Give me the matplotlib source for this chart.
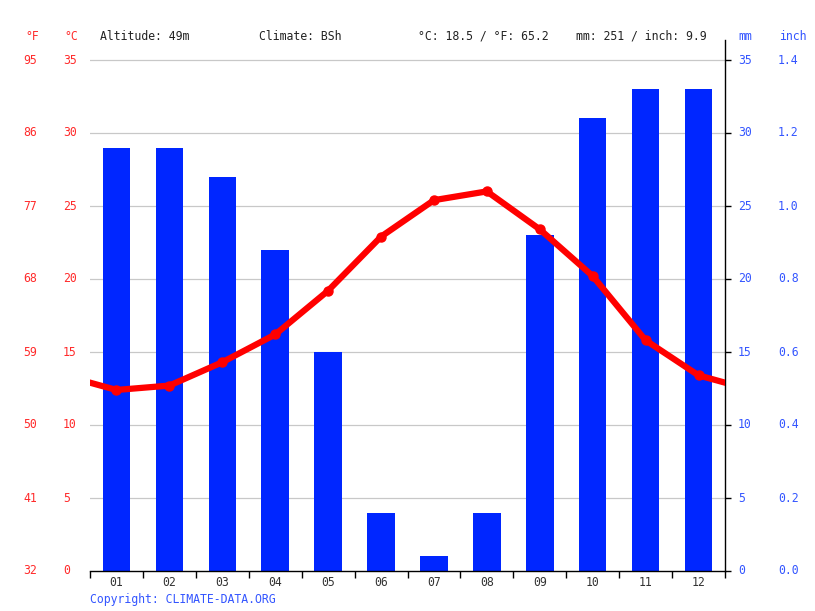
import matplotlib
matplotlib.use("Agg")
import matplotlib.pyplot as plt
import matplotlib.transforms as mtransforms

# data
months = ["01", "02", "03", "04", "05", "06", "07", "08", "09", "10", "11", "12"]
precip_mm = [29, 29, 27, 22, 15, 4, 1, 4, 23, 31, 33, 33]
temp_c = [12.4, 12.7, 14.3, 16.2, 19.2, 22.9, 25.4, 26.0, 23.4, 20.2, 15.8, 13.4]
c_ticks = [0, 5, 10, 15, 20, 25, 30, 35]
f_labels = ["32", "41", "50", "59", "68", "77", "86", "95"]
mm_labels = ["0", "5", "10", "15", "20", "25", "30", "35"]
inch_labels = ["0.0", "0.2", "0.4", "0.6", "0.8", "1.0", "1.2", "1.4"]

red = "#ff0000"
red_txt = "#ff2a2a"
blue = "#0026ff"
blue_txt = "#3355ff"
fnt = "DejaVu Sans Mono"
fs = 8.3

plt.rcParams["font.family"] = fnt

W, H = 815, 611
fig = plt.figure(figsize=(W / 100, H / 100), dpi=100)
ax = fig.add_axes([90 / W, (H - 571) / H, (725 - 90) / W, (571 - 40) / H])

px_per_c = (571 - 60) / 35.0
ax.set_ylim(0, (571 - 40) / px_per_c)
ax.set_xlim(-0.5, 11.5)

# gridlines
for v in c_ticks[1:]:
    ax.axhline(v, color="#c8c8c8", lw=0.9, zorder=0)

x = list(range(12))
ax.bar(x, precip_mm, width=0.52, color=blue, zorder=2)

# temperature line, wrapped around the year at the edges
xl = [-1] + x + [12]
tl = [temp_c[-1]] + temp_c + [temp_c[0]]
ax.plot(xl, tl, color=red, lw=4.5, zorder=3, solid_capstyle="butt")
ax.plot(x, temp_c, "o", color=red, ms=6.5, zorder=4)

for s in ["left", "top"]:
    ax.spines[s].set_visible(False)
ax.spines["right"].set_color("black")
ax.spines["bottom"].set_color("black")
ax.spines["right"].set_linewidth(1.0)
ax.spines["bottom"].set_linewidth(1.0)

ax.set_xticks([i - 0.5 for i in range(13)])
ax.set_xticklabels([])
ax.tick_params(axis="x", length=5, width=1, direction="out", color="black")

ax.yaxis.tick_right()
ax.set_yticks(c_ticks)
ax.set_yticklabels([])
ax.tick_params(axis="y", which="both", right=True, left=False, length=4, width=1, color="black")

tr_l = mtransforms.blended_transform_factory(fig.transFigure, ax.transData)
tr_m = mtransforms.blended_transform_factory(ax.transData, fig.transFigure)
for i, m in enumerate(months):
    ax.text(i, 1 - 582 / H, m, transform=tr_m, ha="center", va="center", fontsize=fs, color="#333333")

for v, fl, ml, il in zip(c_ticks, f_labels, mm_labels, inch_labels):
    ax.text(23 / W, v, fl, transform=tr_l, ha="left", va="center", fontsize=fs, color=red_txt)
    ax.text(63 / W, v, str(v), transform=tr_l, ha="left", va="center", fontsize=fs, color=red_txt)
    ax.text(738 / W, v, ml, transform=tr_l, ha="left", va="center", fontsize=fs, color=blue_txt)
    ax.text(778 / W, v, il, transform=tr_l, ha="left", va="center", fontsize=fs, color=blue_txt)

ty = 1 - 36 / H
fig.text(25 / W, ty, "°F", ha="left", va="center", fontsize=fs, color=red_txt)
fig.text(64 / W, ty, "°C", ha="left", va="center", fontsize=fs, color=red_txt)
fig.text(100 / W, ty, "Altitude: 49m", ha="left", va="center", fontsize=fs, color="#222222")
fig.text(259 / W, ty, "Climate: BSh", ha="left", va="center", fontsize=fs, color="#222222")
fig.text(418 / W, ty, "°C: 18.5 / °F: 65.2", ha="left", va="center", fontsize=fs, color="#222222")
fig.text(576 / W, ty, "mm: 251 / inch: 9.9", ha="left", va="center", fontsize=fs, color="#222222")
fig.text(738 / W, ty, "mm", ha="left", va="center", fontsize=fs, color=blue_txt)
fig.text(779 / W, ty, "inch", ha="left", va="center", fontsize=fs, color=blue_txt)
fig.text(90 / W, 1 - 600 / H, "Copyright: CLIMATE-DATA.ORG", ha="left", va="center",
         fontsize=fs, color=blue_txt)

fig.savefig("out.png", dpi=100)
